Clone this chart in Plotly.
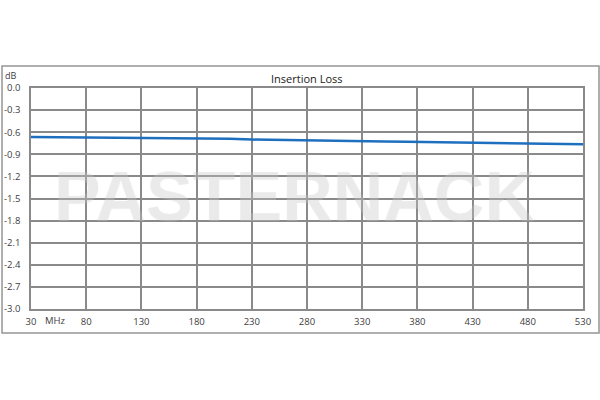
import plotly.graph_objects as go

# frequency in MHz, insertion loss in dB
freq_mhz = [30, 50, 70, 90, 110, 130, 150, 170, 190, 210, 230, 250, 270,
            290, 310, 330, 350, 370, 390, 410, 430, 450, 470, 490, 510, 530]
loss_db = [-0.665, -0.668, -0.672, -0.675, -0.678, -0.678, -0.682, -0.680,
           -0.685, -0.690, -0.700, -0.703, -0.705, -0.707, -0.712, -0.720,
           -0.725, -0.730, -0.735, -0.740, -0.748, -0.750, -0.752, -0.755,
           -0.760, -0.765]

x_ticks = [30, 80, 130, 180, 230, 280, 330, 380, 430, 480, 530]
y_ticks = [0.0, -0.3, -0.6, -0.9, -1.2, -1.5, -1.8, -2.1, -2.4, -2.7, -3.0]

GRID = "#8a8a8a"
TEXT = "#404040"
FONT = "Open Sans"

fig = go.Figure()
fig.add_trace(go.Scatter(
    x=freq_mhz, y=loss_db, mode="lines",
    line=dict(color="#1f6fbf", width=2.5),
    showlegend=False,
))

fig.update_layout(
    width=600, height=400,
    margin=dict(l=31, r=17, t=88, b=91),
    paper_bgcolor="white", plot_bgcolor="white",
    font=dict(family=FONT, size=10, color=TEXT),
    xaxis=dict(
        range=[30, 530], tickvals=x_ticks,
        ticktext=[str(v) for v in x_ticks],
        showgrid=True, gridcolor=GRID, gridwidth=1.5,
        showline=True, linecolor=GRID, linewidth=1.5, mirror=True,
        zeroline=False, ticks="", ticklabelstandoff=3, automargin=False,
        tickfont=dict(size=9.5, color=TEXT),
    ),
    yaxis=dict(
        range=[-3.0, 0.0], tickvals=y_ticks,
        ticktext=["%.1f" % v for v in y_ticks],
        showgrid=True, gridcolor=GRID, gridwidth=1.5,
        showline=True, linecolor=GRID, linewidth=1.5, mirror=True,
        zeroline=False, ticks="", ticklabelstandoff=7, automargin=False,
        tickfont=dict(size=9.5, color=TEXT),
    ),
)

# outer frame around the whole chart
fig.add_shape(type="rect", xref="paper", yref="paper",
              x0=-0.0525, x1=1.029, y0=-0.1086, y1=1.0995,
              line=dict(color="#959595", width=1.5), layer="below")

fig.add_annotation(text="Insertion Loss", xref="paper", yref="paper",
                   x=0.5, y=1.045, showarrow=False, yanchor="middle",
                   font=dict(family=FONT, size=11, color="#202020"))
fig.add_annotation(text="dB", xref="paper", yref="paper",
                   x=-0.036, y=1.056, showarrow=False, xanchor="center",
                   yanchor="middle", font=dict(family=FONT, size=9, color=TEXT))
fig.add_annotation(text="MHz", xref="x", yref="paper",
                   x=41, y=-0.054, showarrow=False, xanchor="left",
                   yanchor="middle", font=dict(family=FONT, size=9.5, color=TEXT))

# watermark
fig.add_annotation(text="<b>PASTERNACK</b>", xref="paper", yref="paper",
                   x=0.478, y=0.509, showarrow=False,
                   font=dict(family="Liberation Sans", size=70,
                             color="rgba(215,215,215,0.25)",
                             shadow="0 0 1px rgba(160,160,160,0.6)"))

fig.write_html("out.html", config={"displayModeBar": False},
               post_script="document.body.style.margin='0';")
